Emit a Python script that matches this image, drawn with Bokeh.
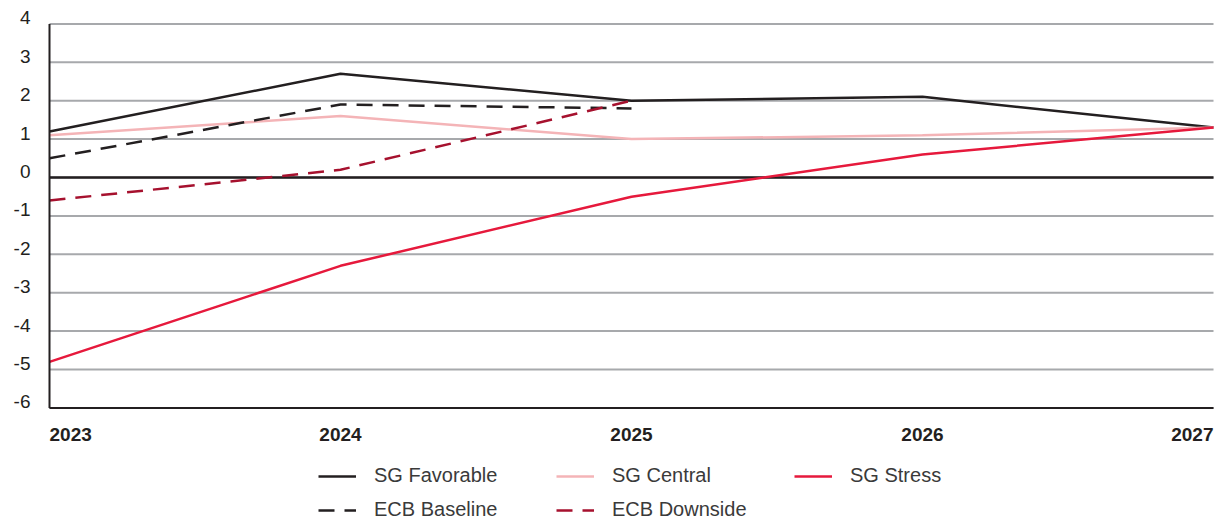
from bokeh.plotting import figure
from bokeh.models import (ColumnDataSource, Range1d, LabelSet, Legend, LegendItem)
from bokeh.core.properties import value, field
from bokeh.embed import file_html
from bokeh.resources import INLINE

# ---- data ----
years = [2023, 2024, 2025, 2026, 2027]
year_labels = ["2023", "2024", "2025", "2026", "2027"]
sg_favorable = [1.2, 2.7, 2.0, 2.1, 1.3]
sg_central = [1.1, 1.6, 1.0, 1.1, 1.3]
sg_stress = [-4.8, -2.3, -0.5, 0.6, 1.3]
ecb_years = [2023, 2024, 2025]
ecb_baseline = [0.5, 1.9, 1.8]
ecb_downside = [-0.6, 0.2, 2.0]
y_ticks = [4, 3, 2, 1, 0, -1, -2, -3, -4, -5, -6]
y_tick_labels = [str(t) for t in y_ticks]
zero_line = [0]

BLACK = "#231f20"
GRID = "#a7a9ac"

# ---- layout (pixels) ----
W, H = 1223, 521
PLOT_L, PLOT_R, PLOT_T, PLOT_B = 49, 1213, 23.4, 407.4
x_scale = (PLOT_R - PLOT_L) / (years[-1] - years[0])
y_scale = (PLOT_B - PLOT_T) / (max(y_ticks) - min(y_ticks))
x_range = Range1d(years[0] - PLOT_L / x_scale, years[-1] + (W - PLOT_R) / x_scale)
y_range = Range1d(min(y_ticks) - (H - PLOT_B) / y_scale, max(y_ticks) + PLOT_T / y_scale)

p = figure(width=W, height=H, output_backend="svg", toolbar_location=None,
           x_range=x_range, y_range=y_range,
           x_axis_location=None, y_axis_location=None,
           min_border=0)
p.grid.visible = False
p.outline_line_color = None
p.background_fill_color = "white"
p.border_fill_color = "white"

# gridlines
p.segment(x0=years[0], x1=years[-1], y0=y_ticks, y1=y_ticks,
          line_color=GRID, line_width=2)
# zero line
p.segment(x0=years[0], x1=years[-1], y0=zero_line, y1=zero_line,
          line_color=BLACK, line_width=2.5)

r1 = p.line(years, sg_favorable, line_color=BLACK, line_width=2.5)
r2 = p.line(years, sg_central, line_color="#f4b4b7", line_width=2.5)
r3 = p.line(years, sg_stress, line_color="#e6193c", line_width=2.5)
r4 = p.line(ecb_years, ecb_baseline, line_color=BLACK, line_width=2.5,
            line_dash="16 10")
r5 = p.line(ecb_years, ecb_downside, line_color="#a6112e", line_width=2.5,
            line_dash="16 10")

# axis lines
p.segment(x0=[years[0]], x1=[years[0]], y0=[min(y_ticks)], y1=[max(y_ticks)],
          line_color=BLACK, line_width=2)
p.segment(x0=[years[0]], x1=[years[-1]], y0=[min(y_ticks)], y1=[min(y_ticks)],
          line_color=BLACK, line_width=2)

# y tick labels
ysrc = ColumnDataSource(dict(x=[years[0]] * len(y_ticks), y=y_ticks,
                             text=y_tick_labels))
p.add_layout(LabelSet(x="x", y="y", text="text", source=ysrc,
                      text_align="right", text_baseline="middle",
                      x_offset=-19, y_offset=6,
                      text_font=value("Liberation Sans"),
                      text_font_size="19px", text_color=BLACK))

# x tick labels
aligns = ["left"] + ["center"] * (len(years) - 2) + ["right"]
xsrc = ColumnDataSource(dict(x=years, y=[min(y_ticks)] * len(years),
                             text=year_labels, align=aligns))
p.add_layout(LabelSet(x="x", y="y", text="text", source=xsrc,
                      text_align=field("align"), text_baseline="middle",
                      y_offset=-27,
                      text_font=value("Liberation Sans"),
                      text_font_style="bold",
                      text_font_size="19px", text_color=BLACK))

legend = Legend(items=[LegendItem(label="SG Favorable", renderers=[r1]),
                       LegendItem(label="SG Central", renderers=[r2]),
                       LegendItem(label="SG Stress", renderers=[r3]),
                       LegendItem(label="ECB Baseline", renderers=[r4]),
                       LegendItem(label="ECB Downside", renderers=[r5])],
                location=(318, 0), orientation="horizontal", ncols=3,
                padding=0, margin=0, spacing=11, label_standoff=18,
                glyph_width=38, glyph_height=22, label_height=22,
                label_width=171,
                label_text_font="Liberation Sans", label_text_font_size="20px",
                label_text_color="#3a3a3a",
                border_line_color=None, background_fill_alpha=0)
p.add_layout(legend)

open("out.html", "w").write(file_html(p, INLINE))
